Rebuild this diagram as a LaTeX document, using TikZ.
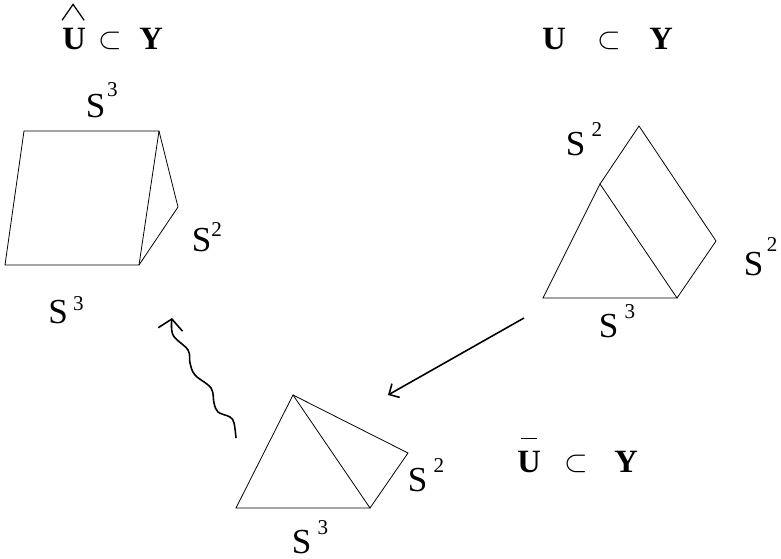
\documentclass[tikz,border=0pt]{standalone}
\usepackage{amsmath}
\usepackage{amssymb}
\usepackage{fontspec}
\setmainfont{Liberation Serif}
\usepackage{tikz}
\usetikzlibrary{arrows.meta}
\newcommand{\sph}[3]{\fontsize{20}{20}\selectfont S\hspace{#2}\raisebox{#3}{\fontsize{12}{12}\selectfont #1}}
\tikzset{
    edge/.style={line width=0.45pt},
    spacelabel/.style={inner sep=0pt, anchor=base west},
    biglabel/.style={inner sep=0pt, anchor=base west, font=\fontsize{18.5}{18.5}\selectfont\bfseries},
    incl/.style={inner sep=0pt, anchor=base west, font=\fontsize{19}{19}\selectfont},
    smallincl/.style={incl, font=\fontsize{16}{16}\selectfont}
}

\begin{document}
\begin{tikzpicture}
            \useasboundingbox (0,0) rectangle (15.62,11.16);

            % Left prism
            \coordinate (a) at (0.48,8.54);
            \coordinate (b) at (3.18,8.54);
            \coordinate (c) at (0.10,5.86);
            \coordinate (d) at (2.78,5.86);
            \coordinate (e) at (3.56,7.02);
            \draw[edge] (a) -- (b) -- (d) -- (c) -- cycle;
            \draw[edge] (b) -- (e) -- (d);

            % Right prism
            \coordinate (f) at (10.86,5.20);
            \coordinate (g) at (13.54,5.20);
            \coordinate (h) at (12.00,7.48);
            \coordinate (i) at (12.78,8.64);
            \coordinate (j) at (14.32,6.34);
            \draw[edge] (f) -- (g) -- (h) -- cycle;
            \draw[edge] (h) -- (i) -- (j) -- (g);

            % Bottom prism
            \coordinate (k) at (4.72,1.00);
            \coordinate (l) at (7.40,1.00);
            \coordinate (m) at (5.86,3.26);
            \coordinate (n) at (8.16,2.10);
            \draw[edge] (k) -- (l) -- (m) -- cycle;
            \draw[edge] (m) -- (n) -- (l);

            % Arrows
            \coordinate (from) at (10.48,4.80);
            \coordinate (to) at (7.76,3.26);
            \draw[-{Straight Barb[length=4.5pt,width=9pt]}, line width=0.9pt] (from) -- (to);
            \draw[-{Straight Barb[length=6pt,width=14pt]}, line width=0.9pt] plot[smooth, tension=0.6] coordinates {(4.72,2.40) (4.68,2.70) (4.60,2.82) (4.36,2.92) (4.28,3.10) (4.22,3.40) (3.90,3.66) (3.80,3.90) (3.76,4.16) (3.46,4.46) (3.44,4.80)};

            % Sphere labels
            \node[spacelabel] (s1) at (1.71,8.82) {\sph{3}{1pt}{11.4pt}};
            \node[spacelabel] (s2) at (3.83,6.14) {\sph{2}{0pt}{8pt}};
            \node[spacelabel] (s3) at (0.96,4.70) {\sph{3}{3pt}{7.4pt}};
            \node[spacelabel] (s4) at (11.31,8.06) {\sph{2}{3.5pt}{10.8pt}};
            \node[spacelabel] (s5) at (14.87,5.66) {\sph{2}{2pt}{13.6pt}};
            \node[spacelabel] (s6) at (11.97,4.42) {\sph{3}{3.5pt}{10.8pt}};
            \node[spacelabel] (s7) at (8.15,1.34) {\sph{2}{3.5pt}{10.8pt}};
            \node[spacelabel] (s8) at (5.83,0.10) {\sph{3}{3.5pt}{10.8pt}};

            % Inclusions
            \node[biglabel] (u1) at (1.24,10.16) {U};
            \node[incl] (c1) at (1.96,10.19) {$\subset$};
            \node[biglabel] (y1) at (2.78,10.16) {Y};
            \node[biglabel] (u2) at (10.84,10.16) {U};
            \node[incl] (c2) at (11.94,10.19) {$\subset$};
            \node[biglabel] (y2) at (12.98,10.16) {Y};
            \node[biglabel] (u3) at (10.34,1.72) {U};
            \node[smallincl] (c3) at (11.28,1.74) {$\subset$};
            \node[biglabel] (y3) at (12.28,1.72) {Y};

            % Hat and bar
            \draw[line width=0.7pt] ([shift={(0,0.16)}]u1.north west) -- ([shift={(-0.02,0.48)}]u1.north) -- ([shift={(-0.04,0.16)}]u1.north east);
            \draw[line width=0.8pt] ([shift={(0.08,0.24)}]u3.north west) -- ([shift={(-0.08,0.24)}]u3.north east);
\end{tikzpicture}
\end{document}
